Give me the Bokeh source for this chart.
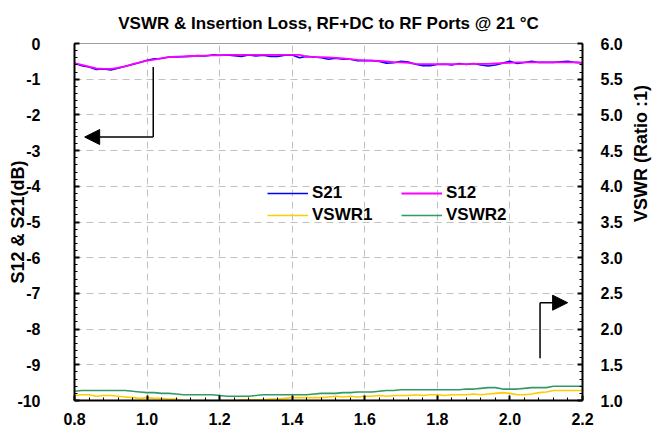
import math
from bokeh.plotting import figure
from bokeh.models import (Range1d, LinearAxis, SingleIntervalTicker, NumeralTickFormatter,
                          Legend, LegendItem, Arrow, NormalHead)
from bokeh.embed import file_html
from bokeh.resources import INLINE

freq = [0.80, 0.82, 0.84, 0.86, 0.88, 0.90, 0.92, 0.94, 0.96, 0.98,
        1.00, 1.02, 1.04, 1.06, 1.08, 1.10, 1.12, 1.14, 1.16, 1.18,
        1.20, 1.22, 1.24, 1.26, 1.28, 1.30, 1.32, 1.34, 1.36, 1.38,
        1.40, 1.42, 1.44, 1.46, 1.48, 1.50, 1.52, 1.54, 1.56, 1.58,
        1.60, 1.62, 1.64, 1.66, 1.68, 1.70, 1.72, 1.74, 1.76, 1.78,
        1.80, 1.82, 1.84, 1.86, 1.88, 1.90, 1.92, 1.94, 1.96, 1.98,
        2.00, 2.02, 2.04, 2.06, 2.08, 2.10, 2.12, 2.14, 2.16, 2.18, 2.20]

s12 = [-0.55, -0.60, -0.65, -0.70, -0.71, -0.71, -0.68, -0.64, -0.58, -0.53,
       -0.48, -0.45, -0.41, -0.38, -0.37, -0.36, -0.35, -0.35, -0.34, -0.33,
       -0.33, -0.32, -0.32, -0.32, -0.32, -0.32, -0.32, -0.32, -0.32, -0.32,
       -0.32, -0.32, -0.37, -0.38, -0.38, -0.39, -0.40, -0.42, -0.44, -0.46,
       -0.47, -0.48, -0.49, -0.50, -0.52, -0.53, -0.54, -0.57, -0.58, -0.58,
       -0.58, -0.58, -0.58, -0.58, -0.58, -0.57, -0.57, -0.57, -0.56, -0.55,
       -0.54, -0.53, -0.53, -0.53, -0.53, -0.53, -0.53, -0.53, -0.53, -0.53, -0.54]

s21 = [-0.55, -0.62, -0.66, -0.73, -0.71, -0.74, -0.69, -0.64, -0.59, -0.53,
       -0.47, -0.43, -0.42, -0.38, -0.38, -0.37, -0.36, -0.34, -0.35, -0.32,
       -0.33, -0.32, -0.34, -0.36, -0.32, -0.35, -0.33, -0.36, -0.36, -0.33,
       -0.32, -0.40, -0.36, -0.38, -0.40, -0.44, -0.41, -0.44, -0.44, -0.48,
       -0.48, -0.48, -0.50, -0.55, -0.54, -0.50, -0.52, -0.58, -0.62, -0.62,
       -0.59, -0.58, -0.60, -0.56, -0.59, -0.56, -0.60, -0.63, -0.60, -0.55,
       -0.50, -0.56, -0.53, -0.50, -0.53, -0.53, -0.53, -0.51, -0.50, -0.53, -0.54]

vswr1 = [1.07, 1.08, 1.08, 1.06, 1.07, 1.07, 1.06, 1.05, 1.04, 1.03,
         1.04, 1.03, 1.03, 1.02, 1.02, 1.00, 1.00, 1.00, 1.00, 1.00,
         1.00, 1.00, 1.00, 1.01, 1.01, 1.01, 1.01, 1.02, 1.02, 1.03,
         1.04, 1.04, 1.04, 1.04, 1.04, 1.05, 1.06, 1.05, 1.06, 1.05,
         1.06, 1.06, 1.07, 1.06, 1.07, 1.07, 1.07, 1.08, 1.07, 1.08,
         1.08, 1.07, 1.08, 1.08, 1.08, 1.09, 1.08, 1.09, 1.10, 1.11,
         1.10, 1.08, 1.08, 1.09, 1.11, 1.12, 1.14, 1.14, 1.14, 1.14, 1.14]

vswr2 = [1.13, 1.14, 1.14, 1.14, 1.14, 1.14, 1.14, 1.14, 1.13, 1.12,
         1.11, 1.11, 1.10, 1.10, 1.09, 1.08, 1.08, 1.08, 1.08, 1.08,
         1.07, 1.06, 1.06, 1.06, 1.06, 1.07, 1.08, 1.08, 1.08, 1.08,
         1.08, 1.08, 1.08, 1.09, 1.10, 1.10, 1.10, 1.11, 1.11, 1.12,
         1.12, 1.12, 1.13, 1.14, 1.14, 1.15, 1.15, 1.15, 1.15, 1.15,
         1.15, 1.15, 1.15, 1.15, 1.16, 1.16, 1.17, 1.18, 1.18, 1.16,
         1.16, 1.16, 1.17, 1.18, 1.18, 1.18, 1.20, 1.20, 1.20, 1.20, 1.20]

# annotation arrows (freq, dB)
left_arrow_x = [1.017, 1.017, 0.828]
left_arrow_y = [-0.66, -2.62, -2.62]
right_arrow_x = [2.083, 2.083, 2.159]
right_arrow_y = [-8.82, -7.26, -7.26]

FONT = "Liberation Sans"

p = figure(width=663, height=440, output_backend="svg", toolbar_location=None,
           x_range=Range1d(0.8, 2.2), y_range=Range1d(-10, 0),
           min_border_left=74, min_border_right=80, min_border_top=43, min_border_bottom=40,
           title="VSWR & Insertion Loss, RF+DC to RF Ports @ 21 °C")
p.title.align = "center"
p.title.text_font = FONT
p.title.text_font_size = "17px"
p.title.text_font_style = "bold"
p.title.text_color = "black"
p.title.standoff = 21

p.extra_y_ranges = {"vswr": Range1d(1.0, 6.0)}

p.outline_line_color = "#a0a0a0"
p.outline_line_width = 1
p.background_fill_color = "white"
p.border_fill_color = "white"

p.xgrid.grid_line_color = "#c0c0c0"
p.xgrid.grid_line_dash = "7 5"
p.ygrid.grid_line_color = "#c0c0c0"
p.ygrid.grid_line_dash = "7 5"

def style_axis(ax):
    ax.major_label_text_font = FONT
    ax.major_label_text_font_size = "16px"
    ax.major_label_text_font_style = "bold"
    ax.major_label_text_color = "black"
    ax.axis_label_text_font = FONT
    ax.axis_label_text_font_size = "18px"
    ax.axis_label_text_font_style = "bold"
    ax.axis_label_text_color = "black"
    ax.axis_line_color = "black"
    ax.axis_line_width = 2
    ax.major_tick_in = 5
    ax.major_tick_out = 0
    ax.minor_tick_in = 3
    ax.minor_tick_out = 0
    ax.major_tick_line_color = "black"
    ax.minor_tick_line_color = "black"
    ax.major_tick_line_width = 2
    ax.minor_tick_line_width = 1

xax = p.xaxis[0]
xax.ticker = SingleIntervalTicker(interval=0.2, num_minor_ticks=5)
xax.formatter = NumeralTickFormatter(format="0.0")
style_axis(xax)
xax.major_label_standoff = 12

yax = p.yaxis[0]
yax.ticker = SingleIntervalTicker(interval=1, num_minor_ticks=5)
yax.formatter = NumeralTickFormatter(format="0")
yax.axis_label = "S12 & S21(dB)"
style_axis(yax)
yax.major_label_standoff = 34
yax.axis_label_standoff = -14

p.xgrid.ticker = SingleIntervalTicker(interval=0.2)
p.ygrid.ticker = SingleIntervalTicker(interval=1)

rax = LinearAxis(y_range_name="vswr", axis_label="VSWR (Ratio :1)",
                 ticker=SingleIntervalTicker(interval=0.5, num_minor_ticks=5),
                 formatter=NumeralTickFormatter(format="0.0"))
style_axis(rax)
rax.major_label_standoff = 18
rax.axis_label_standoff = 15
rax.axis_label_orientation = math.pi / 2
p.add_layout(rax, "right")

r21 = p.line(freq, s21, color="#0000FF", line_width=1.6)
r12 = p.line(freq, s12, color="#FF00FF", line_width=1.8)
rv1 = p.line(freq, vswr1, color="#FFCC00", line_width=1.6, y_range_name="vswr")
rv2 = p.line(freq, vswr2, color="#339966", line_width=1.6, y_range_name="vswr")

# arrows
p.line(left_arrow_x[:2], left_arrow_y[:2], color="black", line_width=1.5)
p.add_layout(Arrow(end=NormalHead(size=15, fill_color="black", line_color="black"),
                   x_start=left_arrow_x[1], y_start=left_arrow_y[1],
                   x_end=left_arrow_x[2], y_end=left_arrow_y[2],
                   line_color="black", line_width=1.5))
p.line(right_arrow_x[:2], right_arrow_y[:2], color="black", line_width=1.5)
p.add_layout(Arrow(end=NormalHead(size=15, fill_color="black", line_color="black"),
                   x_start=right_arrow_x[1], y_start=right_arrow_y[1],
                   x_end=right_arrow_x[2], y_end=right_arrow_y[2],
                   line_color="black", line_width=1.5))

legend = Legend(items=[LegendItem(label="S21", renderers=[r21]),
                       LegendItem(label="VSWR1", renderers=[rv1]),
                       LegendItem(label="S12", renderers=[r12]),
                       LegendItem(label="VSWR2", renderers=[rv2])],
                ncols=2, location=(193, 175),
                background_fill_alpha=0, border_line_alpha=0,
                label_text_font=FONT, label_text_font_size="17px",
                label_text_font_style="bold", label_text_color="black",
                glyph_width=41, glyph_height=14, label_standoff=4,
                label_width=87, label_height=20,
                spacing=2, padding=0, margin=0)
p.add_layout(legend, "center")

open("out.html", "w").write(file_html(p, INLINE))
